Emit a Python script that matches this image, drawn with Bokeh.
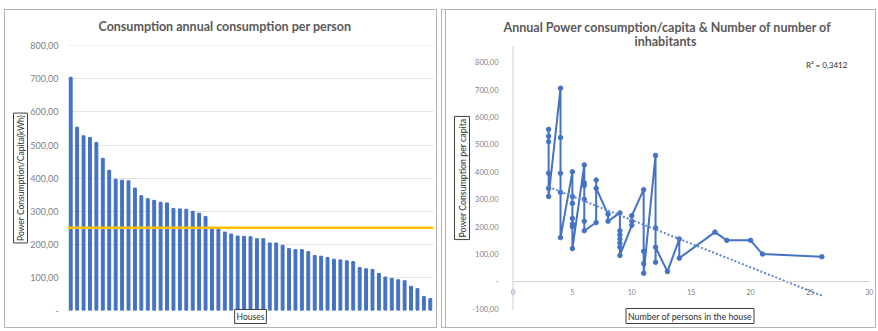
from bokeh.plotting import figure
from bokeh.models import Range1d, FixedTicker, Span, Label, Title
from bokeh.layouts import row
from bokeh.embed import file_html
from bokeh.resources import INLINE

# ---------------- data ----------------
houses = list(range(1, 58))
consumption = [705, 554, 528, 523, 508, 460, 424, 397, 394, 392, 370, 347, 338, 333, 327,
               325, 308, 307, 306, 300, 294, 284, 251, 246, 237, 231, 225, 224, 223, 217,
               217, 204, 204, 197, 187, 184, 184, 178, 166, 164, 160, 155, 153, 150, 148,
               130, 126, 124, 112, 101, 97, 93, 90, 73, 66, 42, 36]
avg_line = 250
left_y_ticks = [0, 100, 200, 300, 400, 500, 600, 700, 800]
left_y_labels = ["-", "100,00", "200,00", "300,00", "400,00", "500,00", "600,00", "700,00", "800,00"]

persons = [3, 3, 3, 3, 3, 3, 4, 4, 4, 4, 4, 5, 5, 5, 5, 5, 5, 5, 6, 6, 6, 6, 6, 6,
           7, 7, 7, 8, 8, 9, 9, 9, 9, 9, 9, 9, 10, 10, 10, 11, 11, 11, 11,
           12, 12, 12, 12, 13, 14, 14, 17, 18, 20, 21, 26]
cons_pp = [555, 530, 510, 395, 340, 310, 705, 525, 395, 325, 160, 400, 310, 285, 230, 210, 200, 120,
           425, 360, 350, 300, 220, 185, 215, 370, 340, 245, 220, 250, 185, 170, 155, 140, 125, 95,
           205, 220, 240, 335, 110, 65, 30, 460, 195, 70, 125, 36, 155, 85, 180, 150, 150, 100, 90]
trend_x = [3, 26]
trend_y = [345, -52]
r2_text = "R² = 0,3412"
right_y_ticks = [-100, 0, 100, 200, 300, 400, 500, 600, 700, 800]
right_y_labels = ["-100,00", "-", "100,00", "200,00", "300,00", "400,00", "500,00", "600,00", "700,00", "800,00"]
right_x_ticks = [0, 5, 10, 15, 20, 25, 30]

FONT = "Lato"
BLUE = "#4472C4"
GRAY_TXT = "#7f7f7f"
TITLE_C = "#595959"
BORDER = "1.5px solid #b4b4b4"
LEFT_CSS = [":host { position: relative; }",
            ":host::after { content: ''; position: absolute; top: 4px; left: 4px; right: 3px; bottom: 3px;"
            " border: " + BORDER + "; pointer-events: none; z-index: 50; }"]
RIGHT_CSS = [":host { position: relative; }",
             ":host::before { content: ''; position: absolute; top: 4px; left: 1px; right: 2px; bottom: 3px;"
             " border: " + BORDER + "; pointer-events: none; z-index: 50; }",
             ":host::after { content: ''; position: absolute; top: 4px; left: 5px; right: 2px; bottom: 3px;"
             " border: " + BORDER + "; pointer-events: none; z-index: 50; }"]


def add_title(p, text, place, size="12.5px", bold=False, color=TITLE_C, box=False,
              standoff=10, offset=0, align="left"):
    t = Title(text=text, align=align, text_font=FONT, text_font_size=size,
              text_font_style="bold" if bold else "normal", text_color=color,
              standoff=standoff, offset=offset)
    if box:
        t.border_line_color = "#404040"
        t.border_line_width = 1
        t.background_fill_color = "white"
        t.padding = 2
    p.add_layout(t, place)


def style_axis(ax, standoff, size):
    ax.major_tick_line_color = None
    ax.minor_tick_line_color = None
    ax.major_tick_out = 0
    ax.major_tick_in = 0
    ax.major_label_standoff = standoff
    ax.major_label_text_font = FONT
    ax.major_label_text_font_size = size
    ax.major_label_text_color = GRAY_TXT


# ---------------- left chart ----------------
p1 = figure(width=440, height=326, x_range=Range1d(0.5, 57.5), y_range=Range1d(0, 801),
            output_backend="svg", toolbar_location=None, title=None,
            min_border_left=67, min_border_right=7, min_border_top=39, min_border_bottom=21,
            margin=(5, 0, 0, 0), stylesheets=LEFT_CSS)
p1.outline_line_color = None
p1.vbar(x=houses, top=consumption, width=0.45, color=BLUE)
p1.add_layout(Span(location=avg_line, dimension="width", line_color="#FFC000", line_width=2.5))
p1.xaxis.visible = False
p1.xgrid.visible = False
p1.yaxis.ticker = FixedTicker(ticks=left_y_ticks)
p1.yaxis.major_label_overrides = {t: l for t, l in zip(left_y_ticks, left_y_labels)}
p1.yaxis.axis_line_color = None
style_axis(p1.yaxis, 9, "9px")
p1.ygrid.ticker = FixedTicker(ticks=left_y_ticks[1:])
p1.ygrid.grid_line_color = "#e4e4e4"

add_title(p1, "Consumption annual consumption per person", "above", bold=True, standoff=23, offset=31)
add_title(p1, "Power Consumption/Capita(kWh)", "left", size="8.5px", box=True, color="#303030",
          standoff=0, align="center")
add_title(p1, "Houses", "below", size="8.5px", box=True, color="#303030", standoff=-6, align="center")

# ---------------- right chart ----------------
p2 = figure(width=438, height=326, x_range=Range1d(-0.8, 30.6), y_range=Range1d(-106, 861),
            output_backend="svg", toolbar_location=None, title=None,
            min_border_left=63, min_border_right=2, min_border_top=39, min_border_bottom=21,
            margin=(5, 0, 0, 0), stylesheets=RIGHT_CSS)
p2.outline_line_color = None
p2.grid.visible = False
p2.add_layout(Span(location=0, dimension="height", line_color="#d0d0d0", line_width=1))
p2.line(persons, cons_pp, line_width=2, color=BLUE)
p2.scatter(persons, cons_pp, size=4.5, color=BLUE)
p2.line(trend_x, trend_y, line_width=2, color="#5b86d0", line_dash="2 2")

p2.xaxis.fixed_location = 0
p2.xaxis.bounds = (right_x_ticks[0], right_x_ticks[-1])
p2.xaxis.ticker = FixedTicker(ticks=right_x_ticks)
p2.xaxis.axis_line_color = "#d0d0d0"
p2.yaxis.ticker = FixedTicker(ticks=right_y_ticks)
p2.yaxis.major_label_overrides = {t: l for t, l in zip(right_y_ticks, right_y_labels)}
p2.yaxis.axis_line_color = None
style_axis(p2.xaxis, 8, "7px")
style_axis(p2.yaxis, 5, "7.5px")

add_title(p2, "inhabitants", "above", bold=True, standoff=-6, offset=131)
add_title(p2, "Annual Power consumption/capita  & Number of number of", "above", bold=True,
          standoff=0, offset=0)
add_title(p2, "Power Consumption per capita", "left", size="8.8px", box=True, color="#303030",
          standoff=0, align="center")
add_title(p2, "Number of persons in the house", "below", size="8.8px", box=True, color="#303030",
          standoff=-8, align="center")
p2.add_layout(Label(x=26.4, y=791, text=r2_text, text_font=FONT, text_font_size="8px",
                    text_color="#303030", text_align="center", text_baseline="middle"))

layout = row(p1, p2)
open("out.html", "w").write(file_html(layout, INLINE))
